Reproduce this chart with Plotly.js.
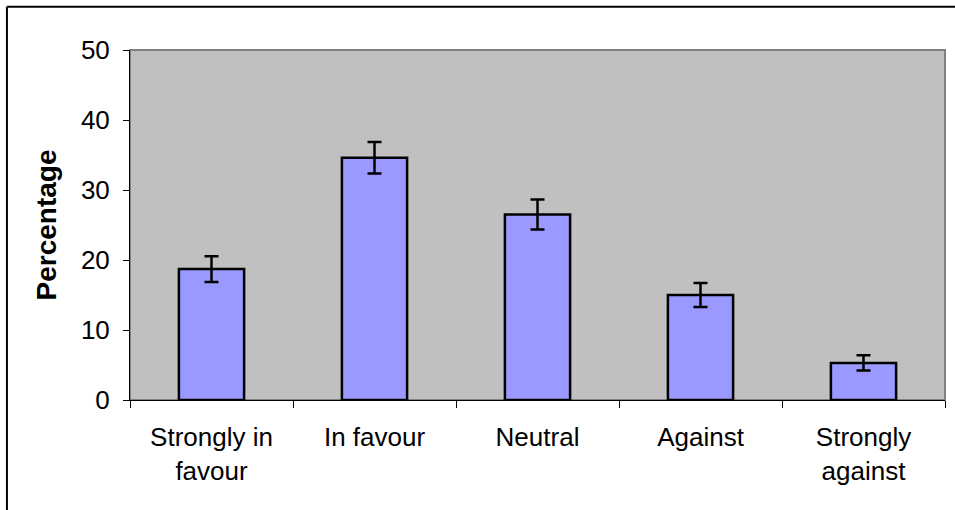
<!DOCTYPE html>
<html>
<head>
<meta charset="utf-8">
<script src="https://cdn.plot.ly/plotly-3.0.1.min.js"></script>
<style>
  html, body { margin: 0; padding: 0; background: #ffffff; }
  #chart { width: 955px; height: 510px; }
</style>
</head>
<body>
<div id="chart"></div>
<script>
const categories = ["Strongly in<br>favour", "In favour", "Neutral", "Against", "Strongly<br>against"];
const percentages = [18.7, 34.6, 26.5, 15.0, 5.3];
const errors = [1.85, 2.25, 2.15, 1.7, 1.1];
const yTicks = [0, 10, 20, 30, 40, 50];

const FONT = "Liberation Sans, Arial, sans-serif";

const trace = {
  type: "bar",
  x: categories,
  y: percentages,
  marker: { color: "#9999FF", line: { color: "#000000", width: 2.5 } },
  error_y: { type: "data", array: errors, visible: true, color: "#000000", thickness: 2.5, width: 7 },
  hoverinfo: "skip"
};

const layout = {
  width: 955,
  height: 510,
  margin: { l: 130, r: 10, t: 50, b: 110 },
  paper_bgcolor: "#ffffff",
  plot_bgcolor: "#C0C0C0",
  showlegend: false,
  bargap: 0.6,
  font: { family: FONT, size: 26, color: "#000000" },
  xaxis: {
    type: "category",
    tickson: "boundaries",
    ticks: "outside",
    ticklen: 7,
    tickcolor: "#000000",
    tickwidth: 1,
    showline: true,
    linecolor: "#000000",
    linewidth: 1,
    showgrid: false,
    tickfont: { family: FONT, size: 26, color: "#000000" },
    ticklabelstandoff: 14,
    fixedrange: true
  },
  yaxis: {
    range: [0, 50],
    tickvals: yTicks,
    ticktext: yTicks.map(String),
    ticks: "outside",
    ticklen: 6,
    tickcolor: "#000000",
    tickwidth: 1,
    showline: true,
    linecolor: "#000000",
    linewidth: 1,
    showgrid: false,
    zeroline: false,
    tickfont: { family: FONT, size: 26, color: "#000000" },
    ticklabelstandoff: 8,
    title: { text: "<b>Percentage</b>", font: { family: FONT, size: 28, color: "#000000" }, standoff: 16 },
    fixedrange: true
  },
  shapes: [
    { type: "rect", xref: "paper", yref: "paper", x0: 0, x1: 1, y0: 0, y1: 1,
      line: { color: "#808080", width: 2 }, fillcolor: "rgba(0,0,0,0)", layer: "below" },
    { type: "line", xref: "paper", yref: "paper", x0: -0.151, x1: 1.02, y0: 1.1235, y1: 1.1235,
      line: { color: "#000000", width: 2 } },
    { type: "line", xref: "paper", yref: "paper", x0: -0.151, x1: -0.151, y0: 1.1235, y1: -0.35,
      line: { color: "#000000", width: 2 } }
  ]
};

Plotly.newPlot("chart", [trace], layout, { displayModeBar: false, staticPlot: true });
</script>
</body>
</html>
